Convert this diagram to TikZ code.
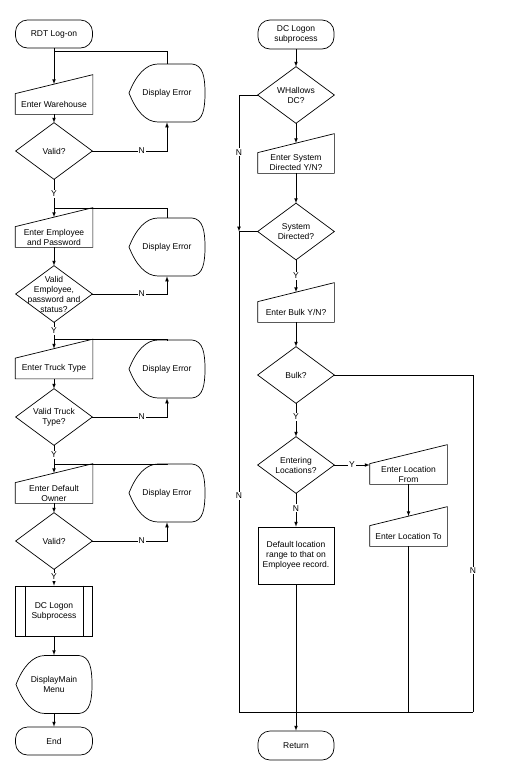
\documentclass[tikz,border=0pt]{standalone}
\usepackage{fontspec}
\setmainfont{Liberation Sans}
\usetikzlibrary{arrows}

\tikzset{
  term/.style={draw, rectangle, rounded corners=12pt, minimum width=77pt, minimum height=28pt, align=center, inner sep=1pt},
  io/.style={rectangle, minimum width=77pt, minimum height=20pt, align=center, inner xsep=1pt, inner ysep=0pt},
  disp/.style={rectangle, minimum width=76pt, minimum height=58pt, align=center, inner sep=1pt},
  dec/.style={rectangle, minimum width=76pt, minimum height=56pt, align=center, inner sep=0pt},
  proc/.style={draw, rectangle, minimum width=77pt, minimum height=50pt, align=center},
  lbl/.style={fill=white, inner sep=1pt},
}

\begin{document}
\begin{tikzpicture}[x=1pt, y=-1pt, line width=.7pt, >=latex, font=\fontsize{8.5}{10}\selectfont]
\useasboundingbox (0,0) rectangle (512,774);

% left column
\node[term] (rdt) at (54,34) {RDT Log-on};
\node[io] (wh) at (54,104) {Enter Warehouse};
\node[disp] (err1) at (167,93) {Display Error};
\node[dec] (v1) at (54,151) {Valid?};
\node[io] (emp) at (54,237) {Enter Employee\\and Password};
\node[disp] (err2) at (167,247) {Display Error};
\node[dec] (v2) at (54,294) {Valid\\Employee,\\password and\\status?};
\node[io] (truck) at (54,368.5) {Enter Truck Type};
\node[disp] (err3) at (167,369) {Display Error};
\node[dec] (v3) at (54,417) {Valid Truck\\Type?};
\node[io] (owner) at (54,493) {Enter Default\\Owner};
\node[disp] (err4) at (167,493) {Display Error};
\node[dec] (v4) at (54,541) {Valid?};
\node[proc] (sub) at (54,611) {DC Logon\\Subprocess};
\node[disp] (dmm) at (54,684.5) {DisplayMain\\Menu};
\node[term] (end) at (54,741) {End};

% right column
\node[term, minimum width=76pt, minimum height=29pt] (dcs) at (296,34.5) {DC Logon\\subprocess};
\node[dec] (whdc) at (296,95) {WHallows\\DC?};
\node[io, minimum width=76pt] (sysin) at (296,163) {Enter System\\Directed Y/N?};
\node[dec] (sysdir) at (296,231.5) {System\\Directed?};
\node[io, minimum width=76pt] (bulkin) at (296,312) {Enter Bulk Y/N?};
\node[dec] (bulk) at (296,375) {Bulk?};
\node[dec] (entloc) at (296,465) {Entering\\Locations?};
\node[io] (locfrom) at (408.5,474) {Enter Location\\From};
\node[io] (locto) at (408.5,536) {Enter Location To};
\node[draw, rectangle, minimum width=76pt, minimum height=57pt, align=center] (deflt) at (296,555.5) {Default location\\range to that on\\Employee record.};
\node[term, minimum width=76pt, minimum height=29pt] (ret) at (296,745.5) {Return};

% outlines
\foreach \n in {v1,v2,v3,v4,whdc,sysdir,bulk,entloc}
  \draw (\n.west) -- (\n.north) -- (\n.east) -- (\n.south) -- cycle;
\foreach \n in {wh,emp,truck,owner,sysin,bulkin,locfrom,locto}
  \draw (\n.south west) -- (\n.south east) -- ([yshift=19pt]\n.north east) -- (\n.north west) -- cycle;
\foreach \n in {err1,err2,err3,err4,dmm}
  \draw[shift={(\n.center)}] (-38,0) .. controls (-31,-18) and (-21,-29) .. (-9,-29) -- (25,-29)
    .. controls (36,-28) and (38,-16) .. (38,0) .. controls (38,16) and (36,28) .. (25,29)
    -- (-9,29) .. controls (-21,29) and (-31,18) .. (-38,0) -- cycle;
\draw ([xshift=10pt]sub.north west) -- ([xshift=10pt]sub.south west);
\draw ([xshift=-10pt]sub.north east) -- ([xshift=-10pt]sub.south east);

% left connectors
\coordinate (j1) at (54,51);
\coordinate (j2) at (54,208);
\coordinate (j3) at (54,339.5);
\coordinate (j4) at (54,464);
\draw (rdt.south) -- (j1);
\draw[->] (j1) -- ([yshift=9.5pt]wh.north);
\draw (err1.north) |- (j1);
\draw[->] (wh.south) -- (v1.north);
\draw[->] (v1.east) -| node[lbl,pos=.33]{N} (err1.south);
\draw (v1.south) -- node[lbl]{Y} (j2);
\draw[->] (j2) -- ([yshift=9.5pt]emp.north);
\draw (err2.north) |- (j2);
\draw[->] (emp.south) -- (v2.north);
\draw[->] (v2.east) -| node[lbl,pos=.33]{N} (err2.south);
\draw (v2.south) -- node[lbl]{Y} (j3);
\draw[->] (j3) -- ([yshift=9.5pt]truck.north);
\draw (err3.north) |- (j3);
\draw[->] (truck.south) -- (v3.north);
\draw[->] (v3.east) -| node[lbl,pos=.33]{N} (err3.south);
\draw (v3.south) -- node[lbl]{Y} (j4);
\draw[->] (j4) -- ([yshift=9.5pt]owner.north);
\draw (err4.north) |- (j4);
\draw[->] (owner.south) -- (v4.north);
\draw[->] (v4.east) -| node[lbl,pos=.33]{N} (err4.south);
\draw[->] (v4.south) -- node[lbl,pos=.47]{Y} (sub.north);
\draw[->] (sub.south) -- (dmm.north);
\draw[->] (dmm.south) -- (end.north);

% right connectors
\coordinate (jl) at (239,231.5);
\coordinate (bl) at (239,712);
\coordinate (br) at (473,712);
\draw[->] (dcs.south) -- (whdc.north);
\draw[->] (whdc.south) -- ([yshift=9.5pt]sysin.north);
\draw[->] (whdc.west) -| node[lbl,pos=.71]{N} (jl);
\draw (sysdir.west) -- (jl) -- node[lbl,pos=.55]{N} (bl) -- (br);
\draw[->] (sysin.south) -- (sysdir.north);
\draw[->] (sysdir.south) -- node[lbl]{Y} ([yshift=9.5pt]bulkin.north);
\draw[->] (bulkin.south) -- (bulk.north);
\draw (bulk.east) -| node[lbl,pos=.79]{N} (br);
\draw[->] (bulk.south) -- node[lbl,pos=.4]{Y} (entloc.north);
\draw[->] (entloc.east) -- node[lbl]{Y} (entloc.east -| locfrom.west);
\draw[->] (locfrom.south) -- ([yshift=9.5pt]locto.north);
\draw (locto.south) -- (locto.south |- bl);
\draw[->] (entloc.south) -- node[lbl,pos=.45]{N} (deflt.north);
\draw[->] (deflt.south) -- (ret.north);
\end{tikzpicture}
\end{document}
